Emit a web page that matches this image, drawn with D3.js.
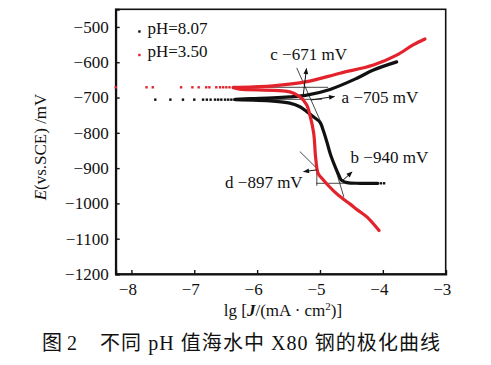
<!DOCTYPE html>
<html><head><meta charset="utf-8">
<script src="https://cdn.jsdelivr.net/npm/d3@7"></script>
<style>
html,body{margin:0;padding:0;background:#fff;}
text{font-family:"Liberation Serif","Times New Roman",serif;fill:#111;}
.cjk{font-family:"Liberation Serif","Noto Sans CJK SC",serif;}
</style></head>
<body><svg id="c" width="491" height="365"></svg>
<script>
// ---- data (x = lg J, y = E in mV) ----
const xTicks = [-8, -7, -6, -5, -4, -3];
const yTicks = [-1200, -1100, -1000, -900, -800, -700, -600, -500];
const seriesNames = ["pH=8.07", "pH=3.50"];
const seriesColors = ["#111111", "#e3232c"];

// sparse points near corrosion potential
const blackDotsX = [-7.62, -7.38, -7.18, -7.00, -6.86, -6.80, -6.74, -6.67, -6.62, -6.57, -6.51, -6.46, -6.41, -6.36];
const blackDotsE = -706;
const blackEndDotsX = [-4.03, -3.98];
const blackEndDotsE = -943;
const redDotsX = [-8.25, -7.76, -7.66, -7.21, -7.03, -6.93, -6.81, -6.76, -6.65, -6.59, -6.54, -6.49, -6.44, -6.38];
const redDotsE = -671;

const blackAnodic = [[-6.35,-705],[-6.10,-703],[-5.75,-701],[-5.48,-698],[-5.21,-693],[-4.84,-677],[-4.42,-646],[-4.15,-622],[-3.78,-599]];
const blackCathodic = [[-6.35,-706],[-5.75,-710],[-5.48,-716],[-5.32,-726],[-5.21,-740],[-5.11,-754],[-5.00,-770],[-4.95,-792],[-4.89,-826],[-4.83,-863],[-4.75,-900],[-4.70,-920],[-4.66,-934],[-4.57,-941],[-4.36,-943],[-4.08,-943]];
const redAnodic = [[-6.38,-671],[-6.28,-671],[-5.75,-667],[-5.21,-655],[-4.68,-631],[-4.15,-608],[-3.78,-580],[-3.52,-551],[-3.33,-534]];
const redCathodic = [[-6.38,-672],[-6.28,-676],[-5.48,-684],[-5.32,-698],[-5.21,-721],[-5.16,-750],[-5.10,-801],[-5.07,-868],[-5.03,-915],[-4.97,-929],[-4.89,-945],[-4.78,-965],[-4.65,-985],[-4.52,-1002],[-4.40,-1019],[-4.25,-1039],[-4.06,-1077]];

// Tafel construction lines (thin)
const guideLines = [
  [[-6.34,-671],[-4.87,-671]],
  [[-6.34,-705],[-4.97,-705]],
  [[-5.37,-616],[-4.95,-784]],
  [[-5.32,-853],[-5.02,-906]],
  [[-5.05,-898],[-5.05,-950]],
  [[-5.06,-943],[-4.49,-943]],
  [[-4.75,-905],[-4.62,-982]]
];
// arrows from intersection to label
const arrows = [
  [[-5.27,-699],[-5.215,-618]],
  [[-5.145,-707],[-4.77,-697]],
  [[-4.67,-940],[-4.49,-911]],
  [[-5.05,-905],[-5.26,-910]]
];
const labels = ["c \u2212671 mV", "a \u2212705 mV", "b \u2212940 mV", "d \u2212897 mV"];
const labelPos = [[-5.79,-594],[-4.656,-716],[-4.513,-885],[-6.51,-957]];

// ---- drawing ----
const svg = d3.select("#c");
const x = d3.scaleLinear().domain([-8.25, -3]).range([115.7, 445.7]);
const y = d3.scaleLinear().domain([-1200, -450]).range([274, 9.3]);
const fmt = v => (v < 0 ? "\u2212" : "") + Math.abs(v);

const defs = svg.append("defs");
defs.append("marker").attr("id","ah").attr("viewBox","0 0 10 10").attr("refX",9).attr("refY",5)
  .attr("markerWidth",7).attr("markerHeight",6).attr("markerUnits","userSpaceOnUse").attr("orient","auto")
  .append("path").attr("d","M0,1 L10,5 L0,9 Z").attr("fill","#111");

// frame
svg.append("rect").attr("x", x(-8.25)).attr("y", y(-450)).attr("width", x(-3)-x(-8.25)).attr("height", y(-1200)-y(-450))
  .attr("fill","none").attr("stroke","#111").attr("stroke-width",1.6);

// axes with inward ticks
const xAxis = d3.axisBottom(x).tickValues(xTicks).tickSize(-4).tickPadding(9).tickFormat(fmt);
const gx = svg.append("g").attr("transform",`translate(0,${y(-1200)})`).call(xAxis);
gx.select(".domain").attr("stroke","#111").attr("stroke-width",2);
gx.selectAll(".tick line").attr("stroke","#111").attr("stroke-width",1.4);
gx.selectAll(".tick text").attr("font-size",17).attr("dx",-4).attr("fill","#111")
  .style("font-family","Liberation Serif");

const yAxis = d3.axisLeft(y).tickValues(yTicks).tickSize(-4).tickPadding(7).tickFormat(fmt);
const gy = svg.append("g").attr("transform",`translate(${x(-8.25)},0)`).call(yAxis);
gy.select(".domain").attr("stroke","#111").attr("stroke-width",2);
gy.selectAll(".tick line").attr("stroke","#111").attr("stroke-width",1.4);
gy.selectAll(".tick text").attr("font-size",17).attr("fill","#111").style("font-family","Liberation Serif");

// guide lines
const lineRaw = d3.line().x(d=>x(d[0])).y(d=>y(d[1]));
svg.append("g").selectAll("path").data(guideLines).join("path")
  .attr("d", lineRaw).attr("fill","none").attr("stroke","#333").attr("stroke-width",0.9);

// curves
const line = d3.line().x(d=>x(d[0])).y(d=>y(d[1])).curve(d3.curveCatmullRom.alpha(0.5));
const curves = [
  {d: blackCathodic, c: seriesColors[0]},
  {d: blackAnodic, c: seriesColors[0]},
  {d: redCathodic, c: seriesColors[1]},
  {d: redAnodic, c: seriesColors[1]}
];
svg.append("g").selectAll("path").data(curves).join("path")
  .attr("d", d=>line(d.d)).attr("fill","none").attr("stroke", d=>d.c).attr("stroke-width",3.2)
  .attr("stroke-linecap","round").attr("stroke-linejoin","round");

// dots
const dotSets = [
  {xs: blackDotsX, e: blackDotsE, c: seriesColors[0]},
  {xs: blackEndDotsX, e: blackEndDotsE, c: seriesColors[0]},
  {xs: redDotsX, e: redDotsE, c: seriesColors[1]}
];
dotSets.forEach(s => {
  svg.append("g").selectAll("rect").data(s.xs).join("rect")
    .attr("x", v=>x(v)-1.2).attr("y", y(s.e)-1.2).attr("width",2.4).attr("height",2.4).attr("fill", s.c);
});

// arrows
svg.append("g").selectAll("path").data(arrows).join("path")
  .attr("d", lineRaw).attr("fill","none").attr("stroke","#111").attr("stroke-width",1)
  .attr("marker-end","url(#ah)");

// annotation labels
svg.append("g").selectAll("text").data(labels).join("text")
  .attr("x",(d,i)=>x(labelPos[i][0])).attr("y",(d,i)=>y(labelPos[i][1]))
  .attr("font-size",17).text(d=>d);

// legend
const lg = svg.append("g");
seriesNames.forEach((n,i)=>{
  const ly = 31.5 + i*23.5;
  lg.append("rect").attr("x",138.2).attr("y",ly-1.2).attr("width",2.4).attr("height",2.4).attr("fill",seriesColors[i]);
  lg.append("text").attr("x",147.5).attr("y",ly+2.3).attr("font-size",17).text(n);
});

// axis titles
const yl = svg.append("text").attr("transform","translate(46,147) rotate(-90)").attr("text-anchor","middle").attr("font-size",17);
yl.append("tspan").attr("font-style","italic").text("E");
yl.append("tspan").text("(vs.SCE) /mV");

const xl = svg.append("text").attr("x",283).attr("y",316).attr("text-anchor","middle").attr("font-size",17);
xl.append("tspan").text("lg [");
xl.append("tspan").attr("font-style","italic").attr("font-weight","bold").text("J");
xl.append("tspan").text("/(mA \u00b7 cm");
xl.append("tspan").attr("font-size",11).attr("dy",-6).text("2");
xl.append("tspan").attr("dy",6).text(")]");

// caption
svg.append("text").attr("class","cjk").attr("x",42).attr("y",350).attr("font-size",20).text("图 2");
svg.append("text").attr("class","cjk").attr("x",100).attr("y",350).attr("font-size",20)
  .attr("textLength",340).attr("lengthAdjust","spacing").text("不同 pH 值海水中 X80 钢的极化曲线");
</script></body></html>
